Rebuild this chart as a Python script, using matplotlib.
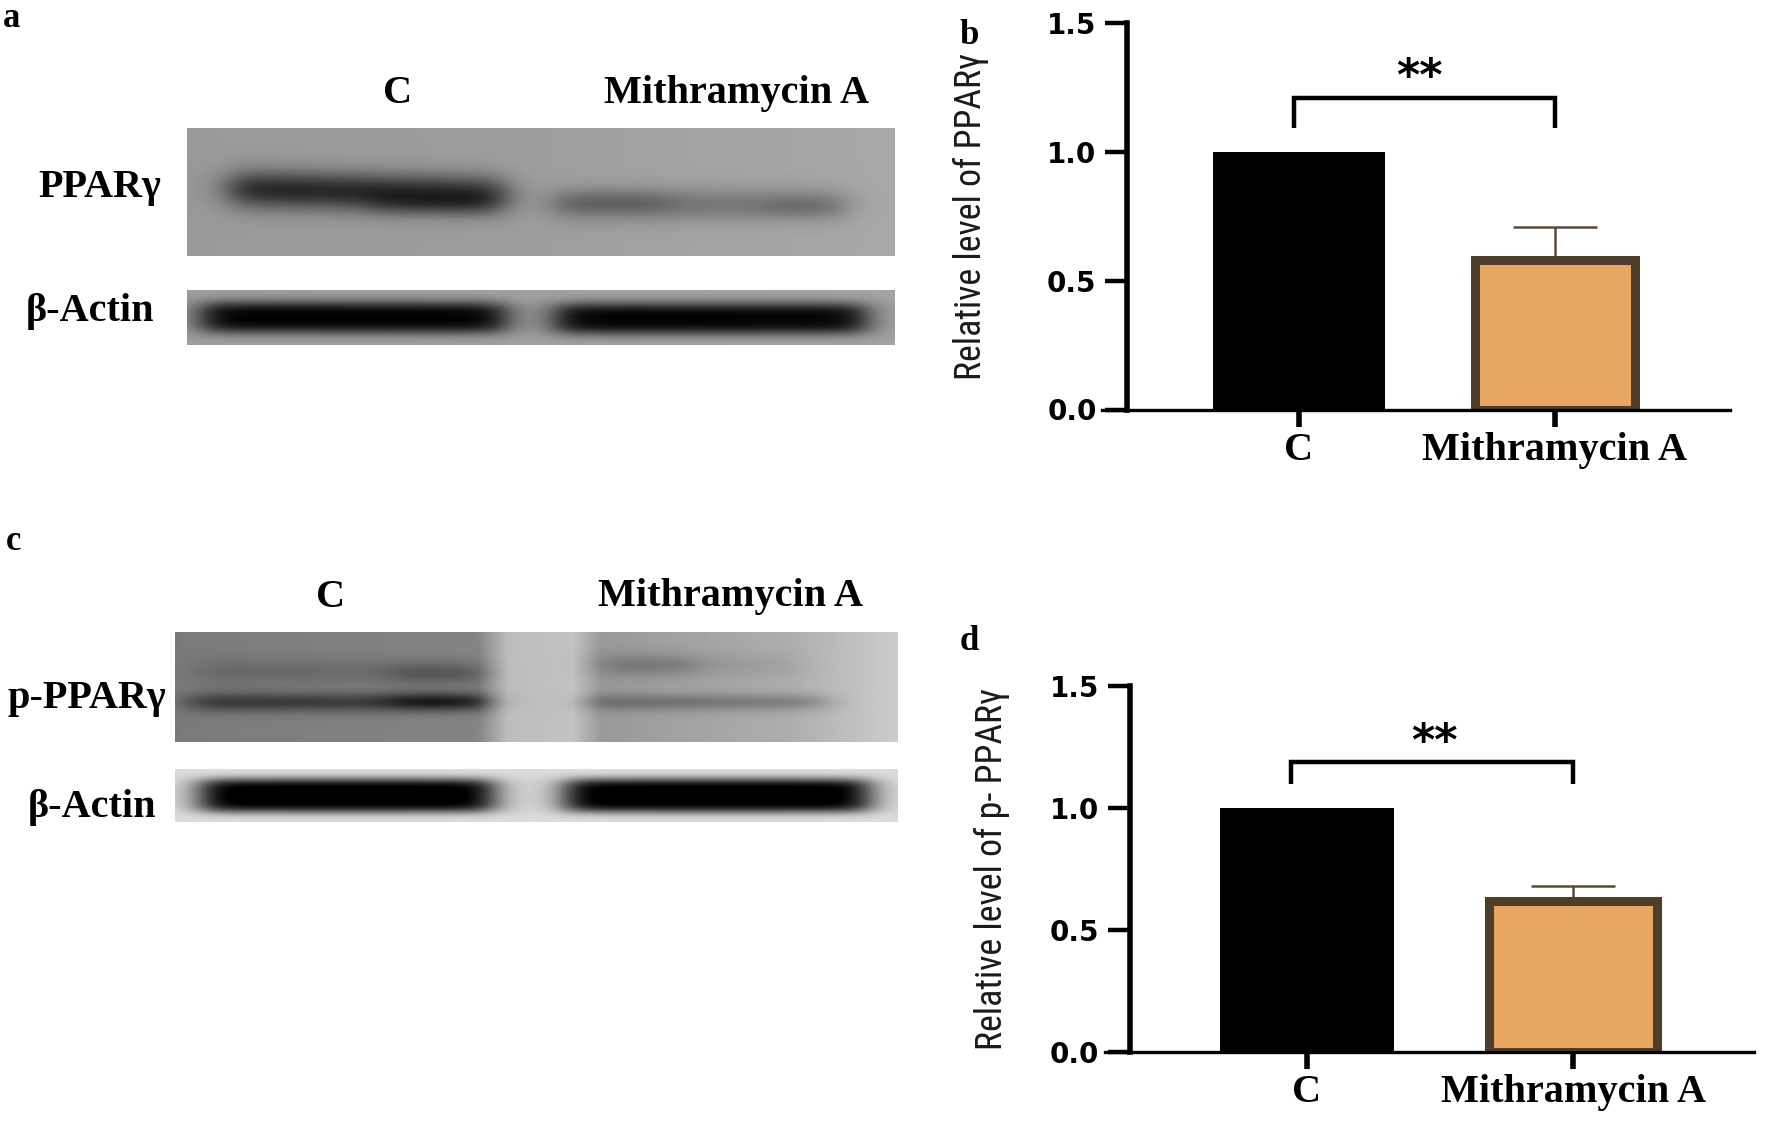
import os
import numpy as np
import matplotlib
matplotlib.use("Agg")
import matplotlib.pyplot as plt
from matplotlib import font_manager

# data
groups = ["C", "Mithramycin A"]
ppar_mean = [1.0, 0.58]
ppar_err = [0.0, 0.13]
pppar_mean = [1.0, 0.62]
pppar_err = [0.0, 0.06]
sig_text = "**"
yticks = [0.0, 0.5, 1.0, 1.5]

# western blot texture: (x0, x1, y centre, half thickness, darkness, tilt, sharpness)
ppar_bg = ([0.0, 0.5, 1.0], [0.60, 0.62, 0.66])
ppar_bands = [
    (0.06, 0.45, 0.50, 0.15, 0.45, 0.12, 2),
    (0.26, 0.43, 0.60, 0.09, 0.12, 0.0, 2),
    (0.52, 0.93, 0.60, 0.13, 0.17, 0.0, 2),
    (0.52, 0.68, 0.58, 0.10, 0.08, 0.0, 2),
    (0.82, 0.92, 0.62, 0.09, 0.06, 0.0, 2),
]
actin_a_bg = ([0.0, 1.0], [0.62, 0.64])
actin_a_bands = [
    (0.02, 0.45, 0.50, 0.30, 0.62, 0.02, 3),
    (0.52, 0.96, 0.52, 0.30, 0.62, 0.0, 3),
]
pppar_bg = ([0.0, 0.42, 0.46, 0.55, 0.59, 0.85, 1.0],
            [0.48, 0.52, 0.74, 0.76, 0.60, 0.68, 0.80])
pppar_bands = [
    (0.02, 0.43, 0.64, 0.09, 0.26, 0.0, 2),
    (0.30, 0.43, 0.63, 0.08, 0.16, 0.0, 2),
    (0.03, 0.43, 0.36, 0.12, 0.08, 0.0, 2),
    (0.30, 0.42, 0.38, 0.10, 0.10, 0.0, 2),
    (0.57, 0.86, 0.30, 0.12, 0.05, 0.0, 2),
    (0.60, 0.72, 0.30, 0.10, 0.10, 0.0, 2),
    (0.57, 0.90, 0.64, 0.08, 0.18, 0.0, 2),
]
actin_c_bg = ([0.0, 1.0], [0.86, 0.86])
actin_c_bands = [
    (0.035, 0.44, 0.50, 0.33, 0.92, 0.0, 4),
    (0.54, 0.96, 0.50, 0.33, 0.92, 0.0, 4),
]

W, H = 1772, 1125
fig = plt.figure(figsize=(W / 100, H / 100), dpi=100)


def rect(x0, y0, x1, y1):
    return [x0 / W, 1 - y1 / H, (x1 - x0) / W, (y1 - y0) / H]


def ftext(x, y, s, **kw):
    fig.text(x / W, 1 - y / H, s, **kw)


serif = dict(family="Liberation Serif", weight="bold", size=29)


def blot(box, bg, bands):
    ax = fig.add_axes(rect(*box))
    w, h = box[2] - box[0], box[3] - box[1]
    X, Y = np.meshgrid(np.linspace(0, 1, w), np.linspace(0, 1, h))
    img = np.interp(X, bg[0], bg[1])
    for x0, x1, yc, th, depth, tilt, p in bands:
        sx = 1 / (1 + np.exp(-(X - x0) / 0.015)) / (1 + np.exp((X - x1) / 0.015))
        yy = yc + tilt * (X - (x0 + x1) / 2)
        sy = np.exp(-np.abs((Y - yy) / th) ** p)
        img = img - depth * sx * sy
    ax.imshow(np.clip(img, 0, 1), cmap="gray", vmin=0, vmax=1,
              aspect="auto", interpolation="bilinear")
    ax.set_axis_off()


# panel a
blot((187, 128, 895, 256), ppar_bg, ppar_bands)
blot((187, 290, 895, 345), actin_a_bg, actin_a_bands)
ftext(3, 27, "a", family="Liberation Serif", weight="bold", size=25, va="baseline")
ftext(398, 103, groups[0], ha="center", va="baseline", **serif)
ftext(736, 103, groups[1], ha="center", va="baseline", **serif)
ftext(161, 197, "PPARγ", ha="right", va="baseline", **serif)
ftext(154, 321, "β-Actin", ha="right", va="baseline", **serif)

# panel c
blot((175, 632, 898, 742), pppar_bg, pppar_bands)
blot((175, 769, 898, 822), actin_c_bg, actin_c_bands)
ftext(6, 550, "c", family="Liberation Serif", weight="bold", size=25, va="baseline")
ftext(331, 607, groups[0], ha="center", va="baseline", **serif)
ftext(730, 606, groups[1], ha="center", va="baseline", **serif)
ftext(166, 708, "p-PPARγ", ha="right", va="baseline", **serif)
ftext(156, 817, "β-Actin", ha="right", va="baseline", **serif)

# look for a narrow sans font for the y labels
pref = ["liberationsansnarrow-regular", "robotocondensed-regular",
        "notosans-condensed.", "dejavusanscondensed.", "opensans-condensed"]
files = {os.path.basename(f.fname).lower(): f.fname
         for f in font_manager.fontManager.ttflist}
label_font = font_manager.FontProperties(family="Liberation Sans")
for p in pref:
    hit = [v for k, v in files.items() if k.startswith(p)]
    if hit:
        label_font = font_manager.FontProperties(fname=hit[0])
        break


def bar_panel(box, xlim, yspine_x, widths, means, errs, ylabel, lab_x,
              bracket, star_xy):
    ax = fig.add_axes(rect(*box))
    x = np.arange(len(groups))
    ax.errorbar(x[1:], means[1:], yerr=[[0], [errs[1]]], fmt="none",
                ecolor="#5a4a3a", elinewidth=1.8, capsize=30, capthick=1.8, zorder=1)
    ax.bar(x[0], means[0], width=widths[0], color="black", zorder=2)
    ax.bar(x[1], means[1], width=widths[1], color="#e8a662",
           edgecolor="#4d3d2a", linewidth=6.5, zorder=2)
    bx0, bx1, by0, by1 = bracket
    ax.plot([bx0, bx0, bx1, bx1], [by0, by1, by1, by0], color="black",
            lw=3.2, solid_joinstyle="miter", solid_capstyle="butt")
    ax.text(star_xy[0], star_xy[1], sig_text, ha="center", va="center",
            family="DejaVu Sans", weight="bold", size=32)
    ax.set_xlim(*xlim)
    ax.set_ylim(0, 1.5)
    for s in ["top", "right"]:
        ax.spines[s].set_visible(False)
    ax.spines["left"].set_position(("data", yspine_x))
    ax.spines["left"].set_linewidth(4)
    ax.spines["bottom"].set_linewidth(2.4)
    ax.set_yticks(yticks)
    ax.set_yticklabels([f"{v:.1f}" for v in yticks], family="DejaVu Sans",
                       weight="bold", size=20)
    ax.tick_params(axis="y", length=16, width=3.2, pad=6)
    ax.set_xticks(x)
    ax.set_xticklabels(groups, **serif)
    ax.tick_params(axis="x", length=12, width=4, pad=4)
    t = ax.set_ylabel(ylabel, fontproperties=label_font, color="#1a1a1a")
    t.set_fontsize(30)
    ax.yaxis.set_label_coords(lab_x, 0.5)
    return ax, t


ax_b, tb = bar_panel((1102, 23, 1730, 409.5), (-0.77, 1.684), -0.672, (0.67, 0.625),
                     ppar_mean, ppar_err, "Relative level of PPARγ", -0.180,
                     (-0.02, 1.0, 1.094, 1.207), (0.47, 1.29))
ax_d, td = bar_panel((1105, 686, 1754, 1052), (-0.759, 1.68), -0.665, (0.655, 0.63),
                     pppar_mean, pppar_err, "Relative level of p- PPARγ", -0.146,
                     (-0.06, 1.0, 1.10, 1.19), (0.48, 1.27))

# fit the y label length to the figure
fig.canvas.draw()
r = fig.canvas.get_renderer()
size = 30 * 326 / tb.get_window_extent(r).height
tb.set_fontsize(size)
td.set_fontsize(size)

ftext(959, 44, "b", family="Liberation Serif", weight="bold", size=25, va="baseline")
ftext(960, 650, "d", family="Liberation Serif", weight="bold", size=25, va="baseline")

fig.savefig("out.png", dpi=100)
